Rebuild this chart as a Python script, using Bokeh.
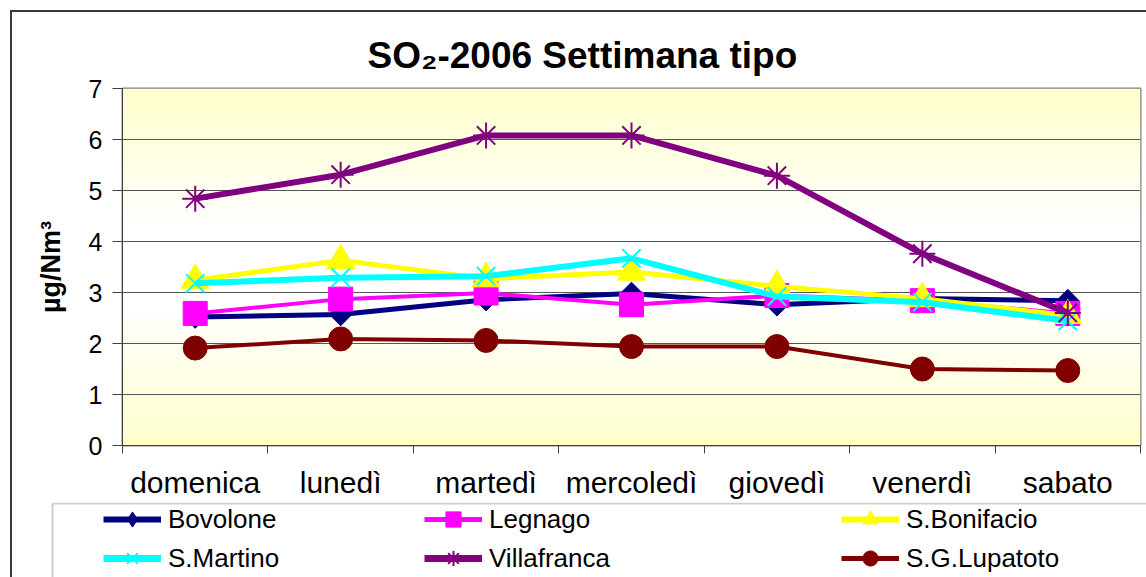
import numpy as np
from bokeh.plotting import figure
from bokeh.layouts import column
from bokeh.models import (Range1d, FixedTicker, Legend, LegendItem, BoxAnnotation)
from bokeh.embed import file_html
from bokeh.resources import INLINE

# ---- data ----
days = ["domenica", "lunedì", "martedì", "mercoledì", "giovedì", "venerdì", "sabato"]
bovolone = [2.52, 2.57, 2.86, 2.98, 2.76, 2.88, 2.84]
legnago = [2.59, 2.87, 2.99, 2.76, 2.94, 2.84, 2.59]
bonifacio = [3.24, 3.63, 3.27, 3.40, 3.12, 2.88, 2.55]
martino = [3.18, 3.29, 3.32, 3.67, 2.92, 2.81, 2.44]
villafranca = [4.84, 5.31, 6.08, 6.08, 5.29, 3.76, 2.60]
lupatoto = [1.91, 2.09, 2.06, 1.94, 1.94, 1.50, 1.47]
y_ticks = [0, 1, 2, 3, 4, 5, 6, 7]

FONT = "Liberation Sans"
xs = [i + 0.5 for i in range(len(days))]

p = figure(width=1134, height=490, output_backend="svg", toolbar_location=None,
           x_range=Range1d(0, len(days)), y_range=Range1d(0, 7),
           min_border_left=110, min_border_right=6, min_border_top=76,
           min_border_bottom=57)

# title
p.title.text = "SO\u2082-2006 Settimana tipo"
p.title.text_font = FONT
p.title.text_font_size = "37px"
p.title.text_font_style = "bold"
p.title.text_color = "black"
p.title.align = "left"
p.title.offset = 245
p.title.standoff = 25

# background gradient (yellow - white - yellow)
n = 200
t = np.linspace(0, 1, n)
w = 1 - np.abs(t - 0.5) * 2
w = np.clip(w * 1.3, 0, 1)
img = np.zeros((n, 1), dtype=np.uint32)
view = img.view(dtype=np.uint8).reshape((n, 1, 4))
view[:, 0, 0] = 255
view[:, 0, 1] = 255
view[:, 0, 2] = (204 + (255 - 204) * w).astype(np.uint8)
view[:, 0, 3] = 255
p.image_rgba(image=[img], x=0, y=0, dw=len(days), dh=7, level="image")

p.background_fill_color = "#FFFFE6"
p.border_fill_color = "white"
p.outline_line_color = "#808080"
p.outline_line_width = 2

# grid
p.xgrid.grid_line_color = None
p.ygrid.grid_line_color = "#555555"
p.ygrid.grid_line_width = 1.2
p.ygrid.ticker = FixedTicker(ticks=y_ticks)

# y axis
p.yaxis.ticker = FixedTicker(ticks=y_ticks)
p.yaxis.axis_line_color = "#404040"
p.yaxis.major_tick_line_color = "#404040"
p.yaxis.major_tick_out = 10
p.yaxis.major_tick_in = 0
p.yaxis.minor_tick_line_color = None
p.yaxis.major_label_text_font = FONT
p.yaxis.major_label_text_font_size = "25px"
p.yaxis.major_label_text_color = "black"
p.yaxis.major_label_standoff = 10
p.yaxis.axis_label = "\u00b5g/Nm\u00b3"
p.yaxis.axis_label_text_font = FONT
p.yaxis.axis_label_text_font_size = "27px"
p.yaxis.axis_label_text_font_style = "bold"
p.yaxis.axis_label_text_color = "black"
p.yaxis.axis_label_standoff = 20

# x axis
p.xaxis.ticker = FixedTicker(ticks=xs, minor_ticks=list(range(len(days) + 1)))
p.xaxis.major_label_overrides = {x: d for x, d in zip(xs, days)}
p.xaxis.axis_line_color = "#404040"
p.xaxis.major_tick_line_color = None
p.xaxis.major_tick_out = 0
p.xaxis.major_tick_in = 0
p.xaxis.minor_tick_line_color = "#404040"
p.xaxis.minor_tick_out = 8
p.xaxis.minor_tick_in = 0
p.xaxis.major_label_text_font = FONT
p.xaxis.major_label_text_font_size = "30px"
p.xaxis.major_label_text_color = "black"
p.xaxis.major_label_standoff = 12

series = [
    ("Bovolone", bovolone, "#000080", 5, dict(marker="square", size=16, angle=np.pi / 4), dict(marker="diamond")),
    ("Legnago", legnago, "#FF00FF", 4, dict(marker="square", size=24), {}),
    ("S.Bonifacio", bonifacio, "#FFFF00", 5, dict(marker="triangle", size=28), {}),
    ("S.Martino", martino, "#00FFFF", 6, dict(marker="x", size=26, line_width=2), {}),
    ("Villafranca", villafranca, "#800080", 6, dict(marker="asterisk", size=26, line_width=2), {}),
    ("S.G.Lupatoto", lupatoto, "#800000", 4, dict(marker="circle", size=24), {}),
]

for name, vals, col, lw, mk, _ in series:
    p.line(xs, vals, line_color=col, line_width=lw)
    p.scatter(xs, vals, fill_color=col, line_color=col, **mk)

# ---- legend strip (separate figure, frame = whole canvas) ----
p2 = figure(width=1134, height=75, output_backend="svg", toolbar_location=None,
            x_range=Range1d(0, 1134), y_range=Range1d(75, 0),
            min_border_left=0, min_border_right=0, min_border_top=0, min_border_bottom=0)
p2.frame_align = False
p2.axis.visible = False
p2.grid.grid_line_color = None
p2.outline_line_color = None
p2.background_fill_color = "white"
p2.border_fill_color = "white"

nan = [float("nan")]
rends = {}
for name, vals, col, lw, mk, legmk in series:
    mk2 = dict(mk)
    mk2.pop("angle", None)
    mk2.update(legmk)
    l = p2.line(x=nan, y=nan, line_color=col, line_width=lw + 1)
    s = p2.scatter(x=nan, y=nan, fill_color=col, line_color=col, **mk2)
    rends[name] = [l, s]

leg_common = dict(orientation="vertical", spacing=1, glyph_height=38, glyph_width=58,
                  label_height=38, label_standoff=7, padding=0, margin=0,
                  border_line_color=None, background_fill_alpha=0,
                  label_text_font=FONT, label_text_font_size="26px",
                  label_text_color="black")
cols = [(["Bovolone", "S.Martino"], 91),
        (["Legnago", "Villafranca"], 412),
        (["S.Bonifacio", "S.G.Lupatoto"], 829)]
for names, xoff in cols:
    items = [LegendItem(label=nm, renderers=rends[nm]) for nm in names]
    leg = Legend(items=items, location=(xoff, 0), **leg_common)
    p2.add_layout(leg, "center")

p2.add_layout(BoxAnnotation(left=40, top=1, right=3000, bottom=3000,
                            fill_alpha=0, line_color="#606060", line_width=2))

root = column(p, p2, spacing=0,
              styles={"margin-left": "10px", "margin-top": "10px",
                      "border-left": "2px solid #3a3a3a",
                      "border-top": "2px solid #3a3a3a"})

open("out.html", "w").write(file_html(root, INLINE))
